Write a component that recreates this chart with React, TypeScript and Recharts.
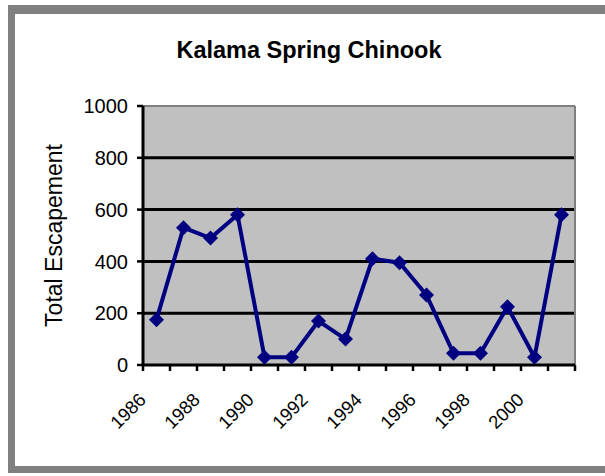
import React from 'react';
import { LineChart, Line, XAxis, YAxis, CartesianGrid } from 'recharts';

const years = ['1986', '1987', '1988', '1989', '1990', '1991', '1992', '1993', '1994', '1995', '1996', '1997', '1998', '1999', '2000', '2001'];
const escapement = [175, 530, 490, 580, 30, 30, 170, 100, 410, 395, 270, 45, 45, 225, 30, 580];
const yTicks = [0, 200, 400, 600, 800, 1000];
const gridValues = [200, 400, 600, 800];

const data = years.map((year, i) => ({ year, total: escapement[i] }));

const W = 605;
const H = 476;
const Y_AXIS_W = 60;
const X_AXIS_H = 40;
// plot area: x 143..575, y 106..365
const margin = { top: 105, right: 29, bottom: 111 - X_AXIS_H, left: 143 - Y_AXIS_W };
const band = (W - 143 - 30) / years.length;
const font = '"Liberation Sans", Arial, sans-serif';

// excel style: tick marks between categories, label on every other year
const YearTick = (props: any) => {
  const { x, y, index, payload } = props;
  const half = band / 2;
  const ax = x - 9.5;
  const ay = y + 30;
  return (
    <g>
      <line x1={x - half} x2={x - half} y1={y - 6} y2={y} stroke="#000" strokeWidth={2.5} />
      {index === years.length - 1 && (
        <line x1={x + half} x2={x + half} y1={y - 6} y2={y} stroke="#000" strokeWidth={2.5} />
      )}
      {index % 2 === 0 && (
        <text
          x={ax}
          y={ay}
          transform={`rotate(-45, ${ax}, ${ay})`}
          textAnchor="end"
          fontSize={18.5}
          fontFamily={font}
          fill="#000"
        >
          {payload.value}
        </text>
      )}
    </g>
  );
};

const Diamond = (props: any) => {
  const { cx, cy } = props;
  if (cx == null || cy == null) return null;
  const r = 7.5;
  return <path d={`M${cx},${cy - r}L${cx + r},${cy}L${cx},${cy + r}L${cx - r},${cy}Z`} fill="#000080" />;
};

const AxisTitle = (props: any) => {
  const { viewBox } = props;
  const x = viewBox.x + viewBox.width - 89;
  const y = viewBox.y + viewBox.height / 2;
  return (
    <text
      x={x}
      y={y}
      transform={`rotate(-90, ${x}, ${y})`}
      textAnchor="middle"
      dy="0.36em"
      fontSize={23}
      fontFamily={font}
      fill="#000"
    >
      Total Escapement
    </text>
  );
};

export default function App() {
  return (
    <div style={{ position: 'absolute', left: 0, top: 0, width: W, height: H, overflow: 'hidden', background: '#fff' }}>
      <div
        style={{
          position: 'absolute',
          left: 8,
          top: 5,
          width: 640,
          height: 452,
          borderTop: '9px solid #808080',
          borderLeft: '7px solid #808080',
          borderBottom: '7px solid #808080',
        }}
      />
      <div
        style={{
          position: 'absolute',
          left: 0,
          top: 39,
          width: 618,
          textAlign: 'center',
          fontFamily: font,
          fontWeight: 'bold',
          fontSize: 23.5,
          lineHeight: 1,
          color: '#000',
        }}
      >
        Kalama Spring Chinook
      </div>
      <div style={{ position: 'absolute', left: 0, top: 0 }}>
        <LineChart width={W} height={H} data={data} margin={margin}>
          <CartesianGrid
            vertical={false}
            horizontalValues={gridValues}
            stroke="#000"
            strokeWidth={3}
            fill="#c0c0c0"
            fillOpacity={1}
          />
          <XAxis
            xAxisId="top"
            orientation="top"
            dataKey="year"
            height={1}
            tick={false}
            tickLine={false}
            axisLine={{ stroke: '#808080', strokeWidth: 2 }}
          />
          <YAxis
            yAxisId="right"
            orientation="right"
            width={1}
            domain={[0, 1000]}
            tick={false}
            tickLine={false}
            axisLine={{ stroke: '#808080', strokeWidth: 2 }}
          />
          <XAxis
            dataKey="year"
            scale="band"
            height={X_AXIS_H}
            interval={0}
            tickSize={6}
            tickMargin={0}
            tickLine={false}
            axisLine={{ stroke: '#000', strokeWidth: 3 }}
            tick={<YearTick />}
          />
          <YAxis
            width={Y_AXIS_W}
            domain={[0, 1000]}
            ticks={yTicks}
            interval={0}
            tickSize={6}
            tickMargin={9}
            tickLine={{ stroke: '#000', strokeWidth: 2.5 }}
            axisLine={{ stroke: '#000', strokeWidth: 3 }}
            tick={{ fontSize: 20, fill: '#000', fontFamily: font }}
            label={<AxisTitle />}
          />
          <Line
            dataKey="total"
            type="linear"
            stroke="#000080"
            strokeWidth={4}
            dot={<Diamond />}
            activeDot={false}
            isAnimationActive={false}
          />
        </LineChart>
      </div>
    </div>
  );
}
